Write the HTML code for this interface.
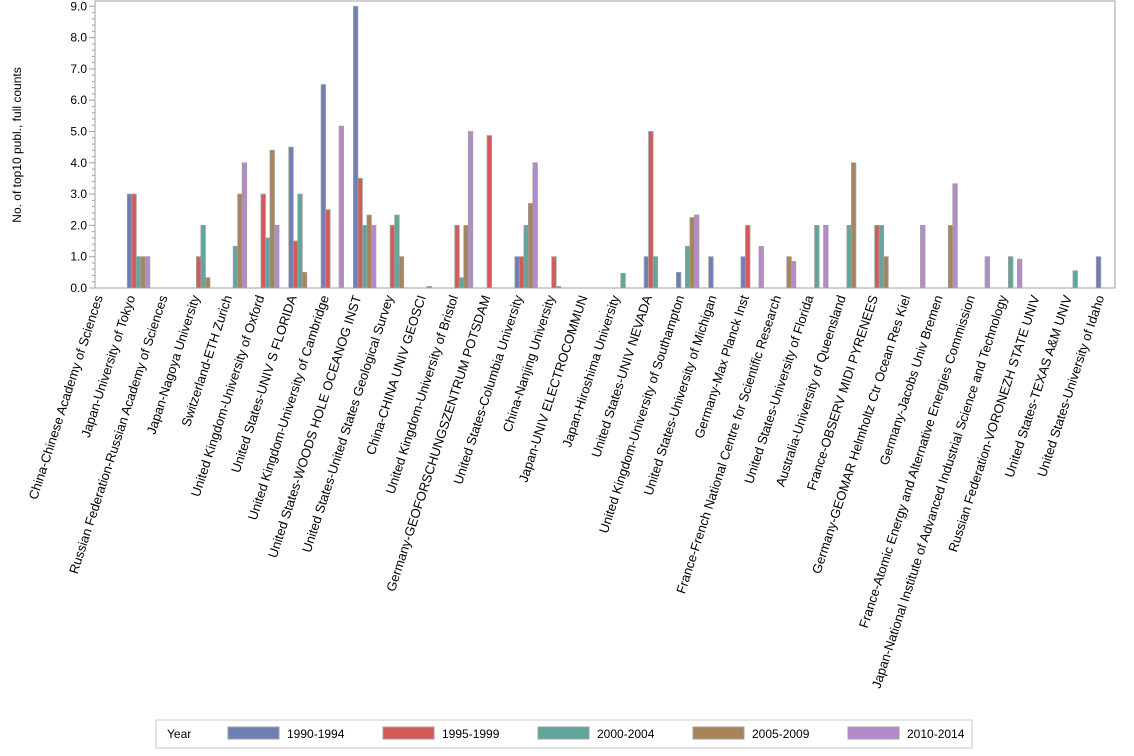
<!DOCTYPE html>
<html><head><meta charset="utf-8"><style>body{margin:0;background:#fff}svg{display:block;font-family:"Liberation Sans",Arial,sans-serif}</style></head>
<body>
<svg width="1134" height="756" xmlns="http://www.w3.org/2000/svg" id="s">
<rect x="95" y="1" width="1020" height="287" fill="none" stroke="#a0a0a0"/>
<g id="ax"></g>
<g id="bars"></g>
<g id="labels" font-size="13" fill="#000"></g>
<text transform="translate(21,145) rotate(-90)" text-anchor="middle" font-size="12">No. of top10 publ., full counts</text>
<rect x="156" y="720" width="816" height="28" fill="#fff" stroke="#c8c8c8"/>
<text x="167" y="738" font-size="12">Year</text>
<g id="leg" font-size="12"></g>
</svg>
<script>
const C=["#6F7FB5","#D45A5A","#63A59C","#A7845B","#B48ACB"];
const Y0=288,S=31.3;
let ax="";
for(let v=0;v<=45;v++){const y=Y0-v*0.2*S;const maj=v%5==0;ax+=`<line x1="${maj?89:92}" x2="95" y1="${y}" y2="${y}" stroke="#a0a0a0"/>`;if(maj)ax+=`<text x="87" y="${y+4}" text-anchor="end" font-size="12">${(v/5).toFixed(1)}</text>`;}
document.getElementById("ax").innerHTML=ax;
const L=["China-Chinese Academy of Sciences","Japan-University of Tokyo","Russian Federation-Russian Academy of Sciences","Japan-Nagoya University","Switzerland-ETH Zurich","United Kingdom-University of Oxford","United States-UNIV S FLORIDA","United Kingdom-University of Cambridge","United States-WOODS HOLE OCEANOG INST","United States-United States Geological Survey","China-CHINA UNIV GEOSCI","United Kingdom-University of Bristol","Germany-GEOFORSCHUNGSZENTRUM POTSDAM","United States-Columbia University","China-Nanjing University","Japan-UNIV ELECTROCOMMUN","Japan-Hiroshima University","United States-UNIV NEVADA","United Kingdom-University of Southampton","United States-University of Michigan","Germany-Max Planck Inst","France-French National Centre for Scientific Research","United States-University of Florida","Australia-University of Queensland","France-OBSERV MIDI PYRENEES","Germany-GEOMAR Helmholtz Ctr Ocean Res Kiel","Germany-Jacobs Univ Bremen","France-Atomic Energy and Alternative Energies Commission","Japan-National Institute of Advanced Industrial Science and Technology","Russian Federation-VORONEZH STATE UNIV","United States-TEXAS A&M UNIV","United States-University of Idaho"];
const D=[[0,0,0,0,0],[3,3,1,1,1],[0,0,0,0,0],[0,1,2,0.33,0],[0,0,1.33,3,4],[0,3,1.6,4.4,2],[4.5,1.5,3,0.5,0],[6.5,2.5,0,0,5.17],[9,3.5,2,2.33,2],[0,2,2.33,1,0],[0,0,0.05,0,0],[0,2,0.33,2,5],[0,4.87,0,0,0],[1,1,2,2.7,4],[0,1,0.05,0,0],[0,0,0,0,0],[0,0,0.47,0,0],[1,5,1,0,0],[0.5,0,1.33,2.25,2.33],[1,0,0,0,0],[1,2,0,0,1.33],[0,0,0,1,0.85],[0,0,2,0,2],[0,0,2,4,0],[0,2,2,1,0],[0,0,0,0,2],[0,0,0,2,3.33],[0,0,0,0,1],[0,0,1,0,0.92],[0,0,0,0,0],[0,0,0.55,0,0],[1,0,0,0,0]];
let b="",l="";
D.forEach((r,i)=>{const x0=95+32.3*i;r.forEach((v,j)=>{if(v>0){const h=v*S;b+=`<rect x="${x0+j*4.5}" y="${Y0-h}" width="4.5" height="${h}" fill="${C[j]}" stroke="#a0a0a0" stroke-width="0.8"/>`;}});
const cx=x0+8;l+=`<text transform="translate(${cx},${297}) rotate(-72)" text-anchor="end">${L[i].replace("&","&amp;")}</text>`;});
document.getElementById("bars").innerHTML=b;document.getElementById("labels").innerHTML=l;
const N=["1990-1994","1995-1999","2000-2004","2005-2009","2010-2014"];let g="";
N.forEach((n,j)=>{const x=228+155*j;g+=`<rect x="${x}" y="727" width="51" height="12" fill="${C[j]}" stroke="#a0a0a0"/><text x="${x+59}" y="738">${n}</text>`;});
document.getElementById("leg").innerHTML=g;
</script>
</body></html>
